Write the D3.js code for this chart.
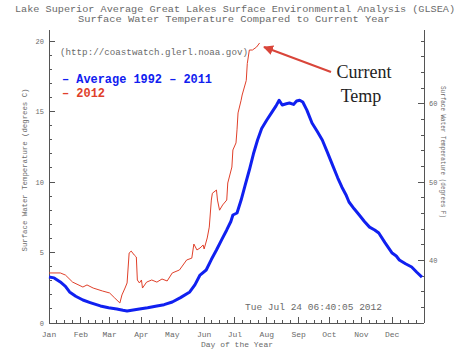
<!DOCTYPE html>
<html><head><meta charset="utf-8">
<script src="https://cdn.jsdelivr.net/npm/d3@7"></script>
<style>body{margin:0;background:#fff}svg{display:block}</style>
</head><body>
<svg id="c" width="474" height="355"></svg>
<script>
// ---- data ----
const monthNames = ["Jan","Feb","Mar","Apr","May","Jun","Jul","Aug","Sep","Oct","Nov","Dec"];
const monthStarts = [0,31,59,90,120,151,181,212,243,273,304,334];
const celsiusTicks = [0,5,10,15,20];
const fahrenheitTicks = [40,50,60];
// Average 1992-2011 : [day of year, °C]
const avgDays = [0,5,11,16,20,26,33,40,50,58,66,72,76,82,88,96,105,112,120,128,137,142,147,153,158,163,168,173,177,179,183,187,191,195,199,203,207,212,217,221,224,227,231,234,238,241,244,247,251,256,261,266,271,276,281,285,289,292,297,302,307,312,317,321,327,334,338,341,347,353,358,363];
const avgTemp = [3.26,3.2,2.91,2.6,2.2,1.9,1.63,1.45,1.21,1.08,0.99,0.9,0.85,0.92,0.99,1.08,1.21,1.3,1.49,1.8,2.2,2.7,3.4,3.76,4.5,5.18,5.9,6.6,7.2,7.66,7.8,8.72,9.8,10.85,12.0,12.98,13.8,14.4,14.96,15.4,15.8,15.46,15.55,15.6,15.5,15.74,15.8,15.67,15.1,14.18,13.6,12.98,12.1,11.2,10.3,9.65,9.1,8.58,8.1,7.66,7.2,6.8,6.6,6.38,5.7,4.96,4.75,4.47,4.2,3.97,3.6,3.26];
// 2012 : [day of year, °C]
const y2012Days = [0,11,16,23,33,37,43,52,59,64,69,71,74,76,78,80,83,85,86,88,90,91,95,100,105,110,115,120,127,134,139,141,144,147,150,151,154,156,158,159,163,164,166,169,173,174,178,179,182,183,184,187,188,192,193,195,198,202,205];
const y2012Temp = [3.55,3.55,3.4,2.9,2.55,2.7,2.48,2.27,2.13,1.77,1.42,1.99,2.48,2.84,4.96,5.1,4.82,4.68,3.05,2.84,3.05,2.48,2.9,3.05,2.9,3.12,2.98,3.55,3.76,4.47,4.6,5.6,5.18,5.32,5.53,5.25,6.03,6.8,8.72,9.2,9.43,8.72,8.0,8.37,8.72,9.93,11.06,12.27,12.77,13.7,14.9,15.8,16.17,17.2,18.4,19.36,19.36,19.57,19.86];

// ---- scales ----
const svg = d3.select("#c");
const x = d3.scaleLinear().domain([0,365]).range([49,424]);
const y = d3.scaleLinear().domain([0,20]).range([323,41]);
const yF = d3.scaleLinear().domain([32,68]).range([323,41]);
const topY = 30;
const grey = "#6a6a6a", axisCol = "#555";
const mono = "'Liberation Mono', 'DejaVu Sans Mono', monospace";

// titles
svg.append("text").attr("x",235).attr("y",12).attr("text-anchor","middle")
  .attr("font-family",mono).attr("font-size",9).attr("fill",grey)
  .attr("textLength",440).attr("lengthAdjust","spacingAndGlyphs")
  .text("Lake Superior Average Great Lakes Surface Environmental Analysis (GLSEA)");
svg.append("text").attr("x",234).attr("y",22).attr("text-anchor","middle")
  .attr("font-family",mono).attr("font-size",9).attr("fill",grey)
  .attr("textLength",312).attr("lengthAdjust","spacingAndGlyphs")
  .text("Surface Water Temperature Compared to Current Year");

// axes lines
const g = svg.append("g").attr("stroke",axisCol).attr("stroke-width",1).attr("shape-rendering","crispEdges");
g.append("line").attr("x1",x(0)).attr("x2",x(0)).attr("y1",topY).attr("y2",y(0));
g.append("line").attr("x1",x(365)).attr("x2",x(365)).attr("y1",topY).attr("y2",y(0));
g.append("line").attr("x1",x(0)).attr("x2",x(365)).attr("y1",y(0)).attr("y2",y(0));

// left ticks (°C): minor each degree, major every 5
d3.range(0,21).forEach(v=>{
  const major = v%5===0;
  g.append("line").attr("x1",x(0)).attr("x2",x(0)+(major?6:3)).attr("y1",y(v)).attr("y2",y(v));
});
svg.selectAll(".lt").data(celsiusTicks).join("text")
  .attr("x",x(0)-5).attr("y",d=>y(d)+2.5).attr("text-anchor","end")
  .attr("font-family",mono).attr("font-size",7).attr("fill",grey).text(d=>d);

// right ticks (°F): minor every 2, major every 10
d3.range(32,69,2).forEach(v=>{
  const major = v%10===0;
  g.append("line").attr("x1",x(365)).attr("x2",x(365)-(major?6:3)).attr("y1",yF(v)).attr("y2",yF(v));
});
svg.selectAll(".rt").data(fahrenheitTicks).join("text")
  .attr("x",x(365)+5).attr("y",d=>yF(d)+2.5).attr("text-anchor","start")
  .attr("font-family",mono).attr("font-size",7).attr("fill",grey).text(d=>d);

// bottom ticks: month majors, weekly minors
monthStarts.forEach((m,i)=>{
  g.append("line").attr("x1",x(m)).attr("x2",x(m)).attr("y1",y(0)).attr("y2",y(0)-6);
  const end = i<11 ? monthStarts[i+1] : 365;
  const len = end-m;
  [1,2,3].forEach(k=>{
    const d = m + len*k/4;
    g.append("line").attr("x1",x(d)).attr("x2",x(d)).attr("y1",y(0)).attr("y2",y(0)-3);
  });
});
svg.selectAll(".mt").data(monthNames).join("text")
  .attr("x",(d,i)=>x(monthStarts[i])).attr("y",337).attr("text-anchor","middle")
  .attr("font-family",mono).attr("font-size",8).attr("fill",grey).text(d=>d);
svg.append("text").attr("x",237).attr("y",347).attr("text-anchor","middle")
  .attr("font-family",mono).attr("font-size",8).attr("fill",grey).text("Day of the Year");

// axis titles
svg.append("text").attr("transform","translate(27,170) rotate(-90)").attr("text-anchor","middle")
  .attr("font-family",mono).attr("font-size",7).attr("fill",grey)
  .attr("textLength",163).attr("lengthAdjust","spacingAndGlyphs")
  .text("Surface Water Temperature (degrees C)");
svg.append("text").attr("transform","translate(441,152) rotate(90)").attr("text-anchor","middle")
  .attr("font-family",mono).attr("font-size",7).attr("fill",grey)
  .attr("textLength",132).attr("lengthAdjust","spacingAndGlyphs")
  .text("Surface Water Temperature (degrees F)");

// url + timestamp
svg.append("text").attr("x",60).attr("y",55).attr("font-family",mono).attr("font-size",9)
  .attr("fill",grey).attr("textLength",188).attr("lengthAdjust","spacingAndGlyphs")
  .text("(http://coastwatch.glerl.noaa.gov)");
svg.append("text").attr("x",245).attr("y",310).attr("font-family",mono).attr("font-size",9)
  .attr("fill",grey).attr("textLength",137).attr("lengthAdjust","spacingAndGlyphs")
  .text("Tue Jul 24 06:40:05 2012");

// legend
const blue = "#1020f0", red = "#e0402a";
svg.append("text").attr("x",62).attr("y",83).attr("font-family",mono).attr("font-weight","bold")
  .attr("font-size",12).attr("fill",blue).attr("textLength",150).attr("lengthAdjust","spacingAndGlyphs")
  .text("– Average 1992 – 2011");
svg.append("text").attr("x",62).attr("y",97).attr("font-family",mono).attr("font-weight","bold")
  .attr("font-size",12).attr("fill",red).attr("textLength",43).attr("lengthAdjust","spacingAndGlyphs")
  .text("– 2012");

// lines
const line = d3.line().x(d=>x(d[0])).y(d=>y(d[1]));
const avg = avgDays.map((d,i)=>[d,avgTemp[i]]);
const cur = y2012Days.map((d,i)=>[d,y2012Temp[i]]);
svg.append("path").datum(cur).attr("d",line).attr("fill","none").attr("stroke",red).attr("stroke-width",1);
svg.append("path").datum(avg).attr("d",line).attr("fill","none").attr("stroke",blue).attr("stroke-width",3).attr("stroke-linejoin","round");

// annotation
const defs = svg.append("defs");
defs.append("marker").attr("id","ah").attr("viewBox","0 0 10 10").attr("refX",9).attr("refY",5)
  .attr("markerWidth",5).attr("markerHeight",5).attr("orient","auto")
  .append("path").attr("d","M0,0L10,5L0,10z").attr("fill","#d9453a");
svg.append("line").attr("x1",331).attr("y1",72).attr("x2",264).attr("y2",47)
  .attr("stroke","#d9453a").attr("stroke-width",2).attr("marker-end","url(#ah)");
svg.append("text").attr("x",364).attr("y",78).attr("text-anchor","middle")
  .attr("font-family","'Liberation Serif', serif").attr("font-size",18).attr("fill","#222").text("Current");
svg.append("text").attr("x",361).attr("y",102).attr("text-anchor","middle")
  .attr("font-family","'Liberation Serif', serif").attr("font-size",18).attr("fill","#222").text("Temp");
</script>
</body></html>
